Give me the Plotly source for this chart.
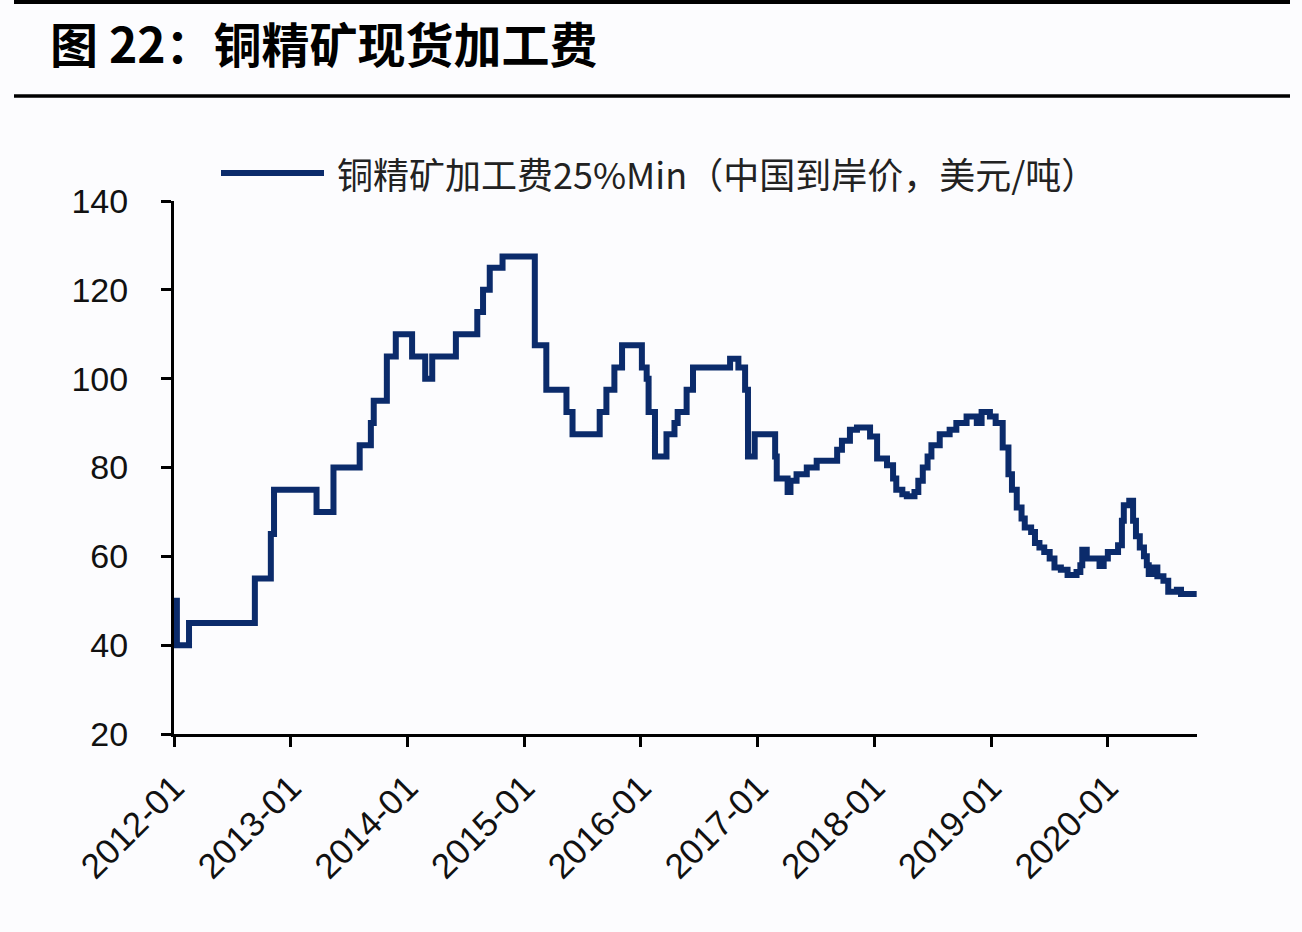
import plotly.graph_objects as go

dates = [
    "2012-01-01", "2012-01-10", "2012-02-17", "2012-09-10", "2012-10-30", "2012-11-09",
    "2013-03-22", "2013-05-14", "2013-08-04", "2013-09-08", "2013-09-17", "2013-10-28",
    "2013-11-25", "2014-01-15", "2014-02-25", "2014-03-19", "2014-06-01", "2014-08-07",
    "2014-08-25", "2014-09-15", "2014-10-25", "2015-02-03", "2015-03-11", "2015-05-13",
    "2015-06-01", "2015-08-25", "2015-09-15", "2015-10-10", "2015-11-03", "2016-01-04",
    "2016-01-19", "2016-01-25", "2016-02-14", "2016-03-21", "2016-04-15", "2016-04-25",
    "2016-05-23", "2016-06-12", "2016-10-06", "2016-11-01", "2016-11-22", "2016-12-01",
    "2016-12-22", "2017-02-24", "2017-03-01", "2017-04-04", "2017-04-13", "2017-05-02",
    "2017-06-03", "2017-07-04", "2017-09-06", "2017-09-21", "2017-10-16", "2017-11-07",
    "2017-12-18", "2018-01-09", "2018-02-09", "2018-02-28", "2018-03-10", "2018-03-29",
    "2018-04-12", "2018-05-06", "2018-05-18", "2018-06-01", "2018-06-16", "2018-06-28",
    "2018-07-24", "2018-08-24", "2018-09-14", "2018-10-16", "2018-11-17", "2018-12-02",
    "2018-12-28", "2019-01-15", "2019-02-06", "2019-02-24", "2019-03-07", "2019-03-22",
    "2019-04-06", "2019-04-16", "2019-05-06", "2019-05-18", "2019-06-01", "2019-06-16",
    "2019-07-03", "2019-07-18", "2019-08-07", "2019-08-28", "2019-09-25", "2019-10-07",
    "2019-10-13", "2019-10-27", "2019-11-28", "2019-12-06", "2019-12-19", "2020-01-01",
    "2020-02-02", "2020-02-14", "2020-02-20", "2020-03-08", "2020-03-20", "2020-03-29",
    "2020-04-10", "2020-04-23", "2020-05-02", "2020-05-08", "2020-05-26", "2020-06-04",
    "2020-06-23", "2020-07-08", "2020-08-04", "2020-08-17", "2020-10-05",
]
tc_values = [
    50, 40, 45, 55, 65, 75,
    70, 80, 85, 90, 95, 105,
    110, 105, 100, 105, 110, 115,
    120, 125, 127.5, 107.5, 97.5, 92.5,
    87.5, 92.5, 97.5, 102.5, 107.5, 102.5,
    100, 92.5, 82.5, 87.5, 90, 92.5,
    97.5, 102.5, 104.5, 102.5, 97.5, 82.5,
    87.5, 82.5, 77.5, 74.5, 77, 78.5,
    80, 81.5, 84, 86, 88.5, 89,
    87, 82, 80.5, 77.5, 75, 74,
    73.5, 74.5, 77, 80, 82.5, 85,
    87.5, 88.5, 90, 91.5, 90, 92.5,
    91.5, 90, 84.5, 78.5, 75, 71,
    68.5, 66.5, 65.5, 63, 62, 61,
    59.5, 57.5, 57, 55.8, 56.5, 58,
    61.5, 59.5, 59.5, 57.8, 59.5, 61,
    62.5, 68, 71.5, 72.5, 68, 64.5,
    62, 60, 58, 56, 57.5, 55.5,
    54.5, 52, 52.5, 51.5, 51.5,
]

series_name = "铜精矿加工费25%Min（中国到岸价，美元/吨）"
title_text = "<b>图 22：铜精矿现货加工费</b>"
x_tick_vals = ["2012-01-01", "2013-01-01", "2014-01-01", "2015-01-01", "2016-01-01",
               "2017-01-01", "2018-01-01", "2019-01-01", "2020-01-01"]
x_tick_text = ["2012-01", "2013-01", "2014-01", "2015-01", "2016-01",
               "2017-01", "2018-01", "2019-01", "2020-01"]
y_ticks = [20, 40, 60, 80, 100, 120, 140]

line_color = "#0b2b6b"
bg = "#fcfcfe"

W, H = 1302, 932
L, R, T, B = 174, 1197, 201, 734
pw, ph = R - L, B - T


def px(x):
    return (x - L) / pw


def py(y):
    return (B - y) / ph


fig = go.Figure()
fig.add_trace(go.Scatter(
    x=dates, y=tc_values, mode="lines", name=series_name,
    line=dict(color=line_color, width=6, shape="hv"),
    showlegend=False,
))

fig.update_layout(
    width=W, height=H,
    margin=dict(l=L, r=W - R, t=T, b=H - B),
    paper_bgcolor=bg, plot_bgcolor=bg,
    font=dict(family="Liberation Sans, Arial, sans-serif", size=33, color="#111"),
    title=dict(
        text=title_text, xref="container", yref="container",
        x=50 / W, xanchor="left", y=1 - 46 / H, yanchor="middle",
        font=dict(family="Noto Sans CJK SC", size=48, color="#000"),
    ),
    xaxis=dict(
        type="date", range=["2012-01-01", "2020-10-06"],
        tickvals=x_tick_vals, ticktext=x_tick_text, tickangle=-45,
        showgrid=False, zeroline=False,
        showline=True, linecolor="#000", linewidth=3,
        ticks="outside", tickcolor="#000", tickwidth=3, ticklen=10,
        ticklabelstandoff=6,
        tickfont=dict(size=35, color="#111"),
    ),
    yaxis=dict(
        range=[20, 140], tickvals=y_ticks,
        showgrid=False, zeroline=False,
        showline=True, linecolor="#000", linewidth=3,
        ticks="outside", tickcolor="#000", tickwidth=3, ticklen=10,
        ticklabelstandoff=26,
        tickfont=dict(size=34, color="#111"),
    ),
    shapes=[
        dict(type="line", xref="paper", yref="paper",
             x0=px(14), x1=px(1290), y0=py(2), y1=py(2),
             line=dict(color="#000", width=4)),
        dict(type="line", xref="paper", yref="paper",
             x0=px(14), x1=px(1290), y0=py(96), y1=py(96),
             line=dict(color="#000", width=3.5)),
        dict(type="line", xref="paper", yref="paper",
             x0=px(221), x1=px(324), y0=py(173), y1=py(173),
             line=dict(color=line_color, width=6)),
    ],
    annotations=[
        dict(text=series_name, xref="paper", yref="paper",
             x=px(335), y=py(173), xanchor="left", yanchor="middle",
             showarrow=False,
             font=dict(family="Noto Sans CJK SC", size=36, color="#222")),
    ],
)

fig.write_html("out.html")
